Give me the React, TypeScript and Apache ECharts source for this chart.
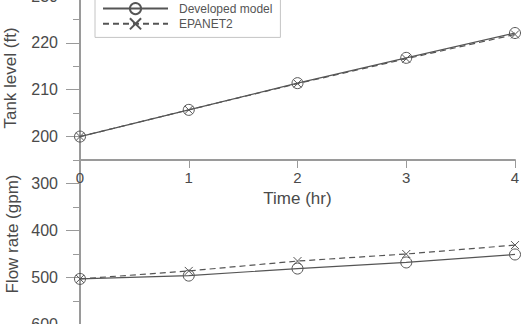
import React, { useEffect, useRef } from "react";
import * as echarts from "echarts";

const timeHr = [0, 1, 2, 3, 4];
const tankDeveloped = [200.0, 205.7, 211.4, 216.8, 222.1];
const tankEpanet = [200.0, 205.7, 211.3, 216.6, 221.8];
const flowDeveloped = [503, 496, 481, 468, 451];
const flowEpanet = [503, 486, 465, 450, 431];
const tankLabels = [200, 210, 220, 230];
const flowLabels = [300, 400, 500, 600];

const FONT = "Liberation Sans, Arial, sans-serif";
const TEXT = "#4a4a4a";
const AXIS = "#9a9a9a";
const LINE = "#555555";
const CROSS = "path://M0,0L10,10M10,0L0,10";

const pairs = (ys: number[]) => timeHr.map((t, i) => [t, ys[i]]);

export default function App() {
  const ref = useRef<HTMLDivElement>(null);
  useEffect(() => {
    if (!ref.current) return;
    const chart = echarts.init(ref.current, undefined, { renderer: "svg" });
    const axisLine = { show: true, lineStyle: { color: AXIS, width: 2 } };
    const lbl = { color: TEXT, fontSize: 16, fontFamily: FONT };
    const circleItem = { color: "transparent", borderColor: LINE, borderWidth: 1 };
    const crossItem = { color: LINE, borderColor: LINE, borderWidth: 1 };
    chart.setOption({
      animation: false,
      backgroundColor: "#fff",
      textStyle: { fontFamily: FONT },
      legend: {
        left: 95,
        top: -5,
        orient: "vertical",
        padding: [7, 8, 7, 7],
        itemWidth: 65,
        itemHeight: 14,
        itemGap: 2,
        borderColor: "#c4c4c4",
        borderWidth: 1,
        backgroundColor: "#fff",
        textStyle: { color: "#555", fontSize: 12, fontFamily: FONT, padding: [0, 0, 0, 6] },
        data: ["Developed model", "EPANET2"],
      },
      grid: [
        { left: 80, right: 10, top: -4, height: 164, outerBoundsMode: "none", containLabel: false },
        { left: 80, right: 10, top: 160, height: 188, outerBoundsMode: "none", containLabel: false },
      ],
      xAxis: [
        {
          gridIndex: 0,
          type: "value",
          min: 0,
          max: 4,
          interval: 1,
          name: "Time (hr)",
          nameLocation: "middle",
          nameGap: 25,
          nameTextStyle: { color: TEXT, fontSize: 17, fontFamily: FONT },
          axisLine,
          axisTick: { show: true, length: 8, lineStyle: { color: AXIS, width: 1 } },
          axisLabel: { ...lbl, fontSize: 15, margin: 10 },
          splitLine: { show: false },
        },
        {
          gridIndex: 1,
          type: "value",
          min: 0,
          max: 4,
          interval: 1,
          show: false,
        },
      ],
      yAxis: [
        {
          gridIndex: 0,
          type: "value",
          position: "left",
          min: 195,
          max: 230,
          interval: 5,
          name: "Tank level (ft)",
          nameLocation: "middle",
          nameGap: 61,
          nameTextStyle: { color: TEXT, fontSize: 17, fontFamily: FONT },
          axisLine,
          axisTick: { show: true, length: 14, customValues: tankLabels, lineStyle: { color: AXIS, width: 1 } },
          axisLabel: { ...lbl, margin: 22, customValues: tankLabels },
          splitLine: { show: false },
        },
        {
          gridIndex: 0,
          type: "value",
          position: "left",
          offset: 0,
          min: 195,
          max: 230,
          interval: 5,
          axisLine: { show: false },
          axisTick: { show: true, length: 7, lineStyle: { color: AXIS, width: 1 } },
          axisLabel: { show: false },
          splitLine: { show: false },
        },
        {
          gridIndex: 1,
          type: "value",
          position: "left",
          inverse: true,
          min: 250,
          max: 650,
          interval: 50,
          axisLine,
          axisTick: { show: true, length: 14, customValues: flowLabels, lineStyle: { color: AXIS, width: 1 } },
          axisLabel: { ...lbl, margin: 22, customValues: flowLabels },
          splitLine: { show: false },
        },
        {
          gridIndex: 1,
          type: "value",
          position: "left",
          offset: 0,
          inverse: true,
          min: 250,
          max: 650,
          interval: 50,
          axisLine: { show: false },
          axisTick: { show: true, length: 7, lineStyle: { color: AXIS, width: 1 } },
          axisLabel: { show: false },
          splitLine: { show: false },
        },
      ],
      graphic: [
        {
          type: "text",
          x: 12,
          y: 234,
          rotation: Math.PI / 2,
          style: {
            text: "Flow rate (gpm)",
            fill: TEXT,
            fontSize: 17,
            fontFamily: FONT,
            align: "center",
            verticalAlign: "middle",
          },
        },
      ],
      series: [
        {
          name: "Developed model",
          type: "line",
          xAxisIndex: 0,
          yAxisIndex: 0,
          data: pairs(tankDeveloped),
          symbol: "circle",
          symbolSize: 11,
          lineStyle: { color: LINE, width: 1.2, type: "solid" },
          itemStyle: circleItem,
          z: 3,
        },
        {
          name: "EPANET2",
          type: "line",
          xAxisIndex: 0,
          yAxisIndex: 0,
          data: pairs(tankEpanet),
          symbol: CROSS,
          symbolSize: 8,
          lineStyle: { color: LINE, width: 1.2, type: [6, 4] },
          itemStyle: crossItem,
          z: 2,
        },
        {
          name: "Developed model",
          type: "line",
          xAxisIndex: 1,
          yAxisIndex: 2,
          data: pairs(flowDeveloped),
          symbol: "circle",
          symbolSize: 11,
          lineStyle: { color: LINE, width: 1.2, type: "solid" },
          itemStyle: circleItem,
          z: 3,
        },
        {
          name: "EPANET2",
          type: "line",
          xAxisIndex: 1,
          yAxisIndex: 2,
          data: pairs(flowEpanet),
          symbol: CROSS,
          symbolSize: 8,
          lineStyle: { color: LINE, width: 1.2, type: [6, 4] },
          itemStyle: crossItem,
          z: 2,
        },
      ],
    });
    return () => chart.dispose();
  }, []);
  return (
    <div
      ref={ref}
      style={{ position: "fixed", left: 0, top: 0, width: 525, height: 324, background: "#fff" }}
    />
  );
}
